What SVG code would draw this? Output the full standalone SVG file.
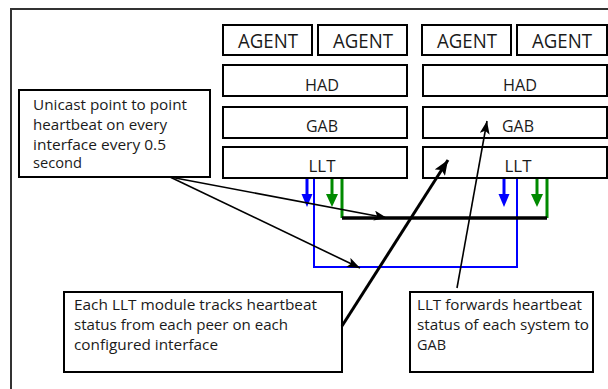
<svg xmlns="http://www.w3.org/2000/svg" width="608" height="389" viewBox="0 0 608 389">
<style>
.box{fill:#fff;stroke:#000;stroke-width:2}
.lbl{font-family:"Open Sans","Noto Sans","Liberation Sans",sans-serif;fill:#1a1a1a;text-anchor:middle}
.ag{font-size:20px}
.ly{font-size:17px}
.note{font-family:"Open Sans","Noto Sans","Liberation Sans",sans-serif;font-size:14px;fill:#1a1a1a}
.blk{stroke:#000;fill:none}
</style>
<defs>
<marker id="ah" markerUnits="userSpaceOnUse" markerWidth="14" markerHeight="10" refX="13" refY="5" orient="auto"><path d="M0,0 L13,5 L0,10 L3,5 Z" fill="#000"/></marker>
<marker id="ahb" markerUnits="userSpaceOnUse" markerWidth="16" markerHeight="12" refX="15" refY="6" orient="auto"><path d="M0,0 L15,6 L0,12 L3,6 Z" fill="#000"/></marker>
</defs>
<rect x="11" y="9" width="620" height="400" fill="#fff" stroke="#333" stroke-width="2"/>
<g id="stack-left">
<g id="agent1"><rect class="box" x="223" y="25" width="89" height="30"/><text class="lbl ag" x="268" y="48" textLength="60" lengthAdjust="spacingAndGlyphs">AGENT</text></g>
<g id="agent2"><rect class="box" x="318" y="25" width="89" height="30"/><text class="lbl ag" x="363" y="48" textLength="60" lengthAdjust="spacingAndGlyphs">AGENT</text></g>
<g id="had1"><rect class="box" x="223" y="65" width="184" height="31"/><text class="lbl ly" x="322" y="91" textLength="34" lengthAdjust="spacingAndGlyphs">HAD</text></g>
<g id="gab1"><rect class="box" x="223" y="107" width="184" height="31"/><text class="lbl ly" x="322" y="132" textLength="32" lengthAdjust="spacingAndGlyphs">GAB</text></g>
<g id="llt1"><rect class="box" x="223" y="147" width="184" height="31"/><text class="lbl ly" x="322" y="172" textLength="27" lengthAdjust="spacingAndGlyphs">LLT</text></g>
</g>
<g id="stack-right">
<g id="agent3"><rect class="box" x="422" y="25" width="89" height="30"/><text class="lbl ag" x="467" y="48" textLength="60" lengthAdjust="spacingAndGlyphs">AGENT</text></g>
<g id="agent4"><rect class="box" x="517" y="25" width="90" height="30"/><text class="lbl ag" x="562" y="48" textLength="60" lengthAdjust="spacingAndGlyphs">AGENT</text></g>
<g id="had2"><rect class="box" x="423" y="65" width="184" height="31"/><text class="lbl ly" x="520" y="91" textLength="34" lengthAdjust="spacingAndGlyphs">HAD</text></g>
<g id="gab2"><rect class="box" x="423" y="107" width="184" height="31"/><text class="lbl ly" x="518" y="132" textLength="32" lengthAdjust="spacingAndGlyphs">GAB</text></g>
<g id="llt2"><rect class="box" x="423" y="147" width="184" height="31"/><text class="lbl ly" x="518" y="172" textLength="27" lengthAdjust="spacingAndGlyphs">LLT</text></g>
</g>
<g id="network">
<path d="M314,179 V267 H517 V179" fill="none" stroke="#00f" stroke-width="2"/>
<path d="M342,179 V218 M547,179 V218" fill="none" stroke="#008a00" stroke-width="3"/>
<path d="M342,218 H547" fill="none" stroke="#000" stroke-width="3.5"/>
<path d="M307,179 V195" stroke="#00f" stroke-width="3"/><path d="M301.5,194 H312.5 L307,207 Z" fill="#00f"/>
<path d="M504,179 V195" stroke="#00f" stroke-width="3"/><path d="M498.5,194 H509.5 L504,207 Z" fill="#00f"/>
<path d="M332,179 V195" stroke="#008a00" stroke-width="3"/><path d="M326,194 H338 L332,207 Z" fill="#008a00"/>
<path d="M537,179 V195" stroke="#008a00" stroke-width="3"/><path d="M531,194 H543 L537,207 Z" fill="#008a00"/>
</g>
<g id="note1"><rect class="box" x="19" y="90" width="191" height="87"/>
<text class="note" x="33" y="110" textLength="154" lengthAdjust="spacingAndGlyphs">Unicast point to point</text>
<text class="note" x="33" y="130" textLength="134" lengthAdjust="spacingAndGlyphs">heartbeat on every</text>
<text class="note" x="33" y="150" textLength="133" lengthAdjust="spacingAndGlyphs">interface every 0.5</text>
<text class="note" x="33" y="168" textLength="49" lengthAdjust="spacingAndGlyphs">second</text></g>
<g id="note2"><rect class="box" x="64" y="292" width="278" height="80"/>
<text class="note" x="74" y="310" textLength="243" lengthAdjust="spacingAndGlyphs">Each LLT module tracks heartbeat</text>
<text class="note" x="74" y="330" textLength="214" lengthAdjust="spacingAndGlyphs">status from each peer on each</text>
<text class="note" x="74" y="350" textLength="144" lengthAdjust="spacingAndGlyphs">configured interface</text></g>
<g id="note3"><rect class="box" x="410" y="292" width="183" height="80"/>
<text class="note" x="417" y="310" textLength="165" lengthAdjust="spacingAndGlyphs">LLT forwards heartbeat</text>
<text class="note" x="417" y="330" textLength="172" lengthAdjust="spacingAndGlyphs">status of each system to</text>
<text class="note" x="417" y="350" textLength="29" lengthAdjust="spacingAndGlyphs">GAB</text></g>
<g id="connectors">
<line class="blk" x1="170" y1="177" x2="387" y2="218" stroke-width="1.6" marker-end="url(#ah)"/>
<line class="blk" x1="170" y1="177" x2="360" y2="268" stroke-width="1.6" marker-end="url(#ah)"/>
<line class="blk" x1="342" y1="326" x2="448" y2="160" stroke-width="3" marker-end="url(#ahb)"/>
<line class="blk" x1="457" y1="288" x2="487" y2="121" stroke-width="1.6" marker-end="url(#ah)"/>
</g>
</svg>
